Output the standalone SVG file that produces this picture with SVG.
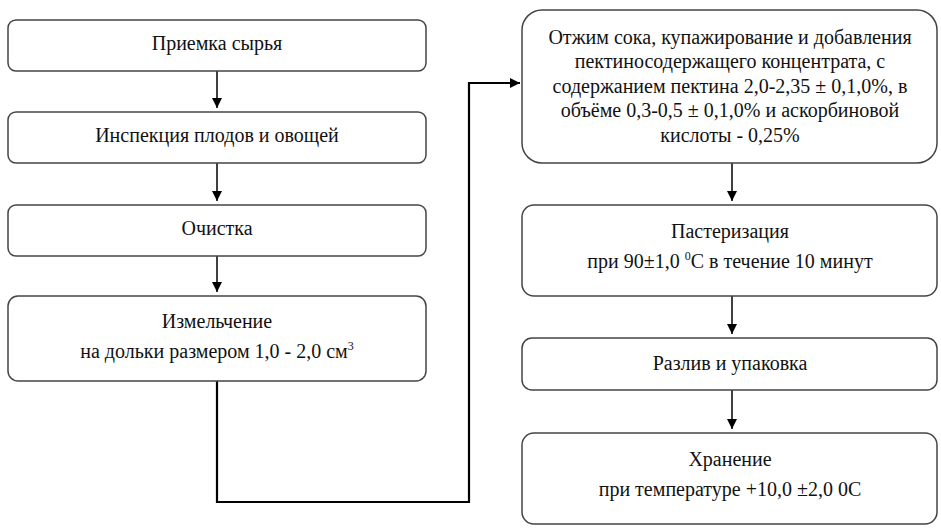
<svg xmlns="http://www.w3.org/2000/svg" width="941" height="529" viewBox="0 0 941 529">
<style>
.box{fill:#fff;stroke:#444;stroke-width:1.5}
.t{font-size:20px;fill:#111;text-anchor:middle}
.c{fill:none;stroke:#000;stroke-width:1.5}
.c2{fill:none;stroke:#000;stroke-width:2.2}
</style>
<defs>
<marker id="ah" viewBox="0 0 10 10" refX="10" refY="5" markerWidth="10" markerHeight="10" markerUnits="userSpaceOnUse" orient="auto">
<path d="M0,0 L10,5 L0,10 z" fill="#000"/>
</marker>
</defs>
<rect width="941" height="529" fill="#fff"/>
<g id="connectors">
<line class="c" x1="217" y1="71" x2="217" y2="108" marker-end="url(#ah)"/>
<line class="c" x1="217" y1="163" x2="217" y2="201" marker-end="url(#ah)"/>
<line class="c" x1="217" y1="256" x2="217" y2="292" marker-end="url(#ah)"/>
<polyline class="c2" points="217,381 217,502 469,502 469,83 520,83" marker-end="url(#ah)"/>
<line class="c" x1="732" y1="163" x2="732" y2="201" marker-end="url(#ah)"/>
<line class="c" x1="732" y1="296" x2="732" y2="334" marker-end="url(#ah)"/>
<line class="c" x1="732" y1="390" x2="732" y2="429" marker-end="url(#ah)"/>
</g>
<g font-family="Liberation Serif, Times New Roman, serif">
<g id="n1"><rect class="box" x="8" y="20" width="418" height="51" rx="8"/><text class="t" x="217" y="50">Приемка сырья</text></g>
<g id="n2"><rect class="box" x="8" y="112" width="418" height="51" rx="8"/><text class="t" x="217" y="142">Инспекция плодов и овощей</text></g>
<g id="n3"><rect class="box" x="8" y="205" width="418" height="51" rx="8"/><text class="t" x="217" y="235">Очистка</text></g>
<g id="n4"><rect class="box" x="8" y="296" width="418" height="85" rx="10"/><text class="t" x="217" y="328">Измельчение</text><text class="t" x="217" y="358">на дольки размером 1,0 - 2,0 см<tspan font-size="12" dy="-8">3</tspan></text></g>
<g id="n5"><rect class="box" x="522" y="10" width="415" height="153" rx="20"/>
<text class="t" x="730" y="44">Отжим сока, купажирование и добавления</text>
<text class="t" x="730" y="68">пектиносодержащего концентрата, с</text>
<text class="t" x="730" y="93">содержанием пектина 2,0-2,35 ± 0,1,0%, в</text>
<text class="t" x="730" y="117">объёме 0,3-0,5 ± 0,1,0% и аскорбиновой</text>
<text class="t" x="730" y="142">кислоты - 0,25%</text></g>
<g id="n6"><rect class="box" x="522" y="205" width="415" height="91" rx="12"/><text class="t" x="730" y="238">Пастеризация</text><text class="t" x="730" y="268">при 90±1,0 <tspan font-size="12" dy="-8">0</tspan><tspan dy="8">С в течение 10 минут</tspan></text></g>
<g id="n7"><rect class="box" x="522" y="338" width="415" height="52" rx="10"/><text class="t" x="730" y="370">Разлив и упаковка</text></g>
<g id="n8"><rect class="box" x="522" y="433" width="415" height="91" rx="12"/><text class="t" x="730" y="466">Хранение</text><text class="t" x="730" y="496">при температуре +10,0 ±2,0 0С</text></g>
</g>
</svg>
